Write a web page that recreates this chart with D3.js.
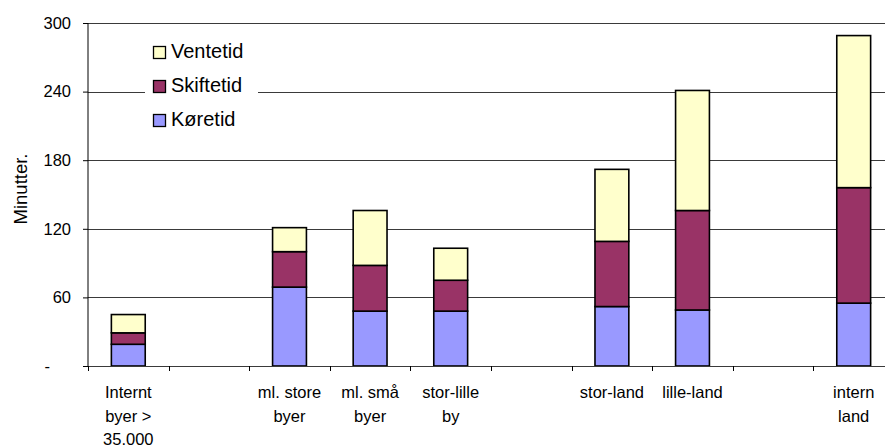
<!DOCTYPE html>
<html>
<head>
<meta charset="utf-8">
<script src="https://cdn.jsdelivr.net/npm/d3@7"></script>
<style>
  html, body { margin: 0; padding: 0; background: #fff; }
  svg { display: block; font-family: "Liberation Sans", Arial, Helvetica, sans-serif; }
</style>
</head>
<body>
<svg id="chart" width="885" height="448"></svg>
<script>
// Category slots (empty strings are gaps between groups); "|" splits label lines
const categories = [
  "Internt|byer >|35.000", "", "ml. store|byer", "ml. små|byer", "stor-lille|by",
  "", "stor-land", "lille-land", "", "intern|land"
];
const seriesNames = ["Køretid", "Skiftetid", "Ventetid"];
const koretid   = [19, null, 69, 48, 48, null, 52, 49, null, 55];
const skiftetid = [10, null, 31, 40, 27, null, 57, 87, null, 101];
const ventetid  = [16, null, 21, 48, 28, null, 63, 105, null, 133];
const yTicks = [0, 60, 120, 180, 240, 300];
const colors = ["#9999FF", "#993366", "#FFFFCC"];

const svg = d3.select("#chart");
const plotLeft = 88, plotRight = 894, plotTop = 23, plotBottom = 366;

const slots = categories.map((c, i) => i);
const x = d3.scaleBand().domain(slots).range([plotLeft, plotRight]).padding(0);
const y = d3.scaleLinear().domain([0, 300]).range([plotBottom, plotTop]);

// Gridlines
svg.append("g").selectAll("line")
  .data(yTicks.filter(t => t > 0))
  .join("line")
  .attr("x1", plotLeft).attr("x2", plotRight)
  .attr("y1", d => Math.round(y(d)) + 0.5).attr("y2", d => Math.round(y(d)) + 0.5)
  .attr("stroke", "#3a3a3a").attr("stroke-width", 1);

// Stacked bars
const rows = slots.map(i => ({
  i,
  "Køretid": koretid[i], "Skiftetid": skiftetid[i], "Ventetid": ventetid[i]
})).filter(r => r["Køretid"] != null);
const stacked = d3.stack().keys(seriesNames)(rows);
const barW = x.bandwidth() * 0.42;

svg.append("g").selectAll("g")
  .data(stacked)
  .join("g")
  .attr("fill", (d, k) => colors[k])
  .selectAll("rect")
  .data(d => d)
  .join("rect")
  .attr("x", d => x(d.data.i) + (x.bandwidth() - barW) / 2)
  .attr("width", barW)
  .attr("y", d => y(d[1]))
  .attr("height", d => y(d[0]) - y(d[1]))
  .attr("stroke", "#000").attr("stroke-width", 1.6);

// Y axis
const yAxis = d3.axisLeft(y).tickValues(yTicks).tickSize(5).tickPadding(12)
  .tickFormat(d => d === 0 ? "-" : d);
const gy = svg.append("g").attr("transform", `translate(${plotLeft},0)`).call(yAxis);
gy.select(".domain").attr("stroke", "#000").attr("d", `M0,${plotTop}V${plotBottom}`);
gy.selectAll(".tick line").attr("stroke", "#000");
gy.selectAll(".tick text").attr("font-size", 16.5).attr("fill", "#000")
  .attr("font-family", "Liberation Sans, Arial, sans-serif");
gy.selectAll(".tick text").filter(d => d === 0).attr("x", -38);

// X axis baseline and tick marks at slot boundaries
svg.append("line")
  .attr("x1", plotLeft).attr("x2", plotRight)
  .attr("y1", plotBottom + 0.5).attr("y2", plotBottom + 0.5)
  .attr("stroke", "#3a3a3a");
svg.append("g").selectAll("line")
  .data(slots.concat([slots.length]))
  .join("line")
  .attr("x1", i => Math.round(plotLeft + i * x.step()) + 0.5)
  .attr("x2", i => Math.round(plotLeft + i * x.step()) + 0.5)
  .attr("y1", plotBottom).attr("y2", plotBottom + 5)
  .attr("stroke", "#000");

// Category labels
const xl = svg.append("g").attr("font-size", 16.5).attr("fill", "#000").attr("text-anchor", "middle");
slots.forEach(i => {
  const lines = categories[i] ? categories[i].split("|") : [];
  lines.forEach((ln, j) => {
    xl.append("text")
      .attr("x", x(i) + x.bandwidth() / 2)
      .attr("y", 398 + j * 23.7)
      .text(ln);
  });
});

// Y axis title
svg.append("text")
  .attr("transform", "translate(27,189) rotate(-90)")
  .attr("text-anchor", "middle")
  .attr("font-size", 18.5)
  .attr("fill", "#000")
  .text("Minutter.");

// Legend
const legend = svg.append("g");
legend.append("rect").attr("x", 145).attr("y", 36).attr("width", 113).attr("height", 100).attr("fill", "#fff");
const legendOrder = [2, 1, 0];
legendOrder.forEach((k, j) => {
  legend.append("rect")
    .attr("x", 153.5).attr("y", 46.5 + j * 34)
    .attr("width", 12).attr("height", 12)
    .attr("fill", colors[k]).attr("stroke", "#000").attr("stroke-width", 1.3);
  legend.append("text")
    .attr("x", 171).attr("y", 57.5 + j * 34)
    .attr("font-size", 20).attr("fill", "#000")
    .text(seriesNames[k]);
});
</script>
</body>
</html>
